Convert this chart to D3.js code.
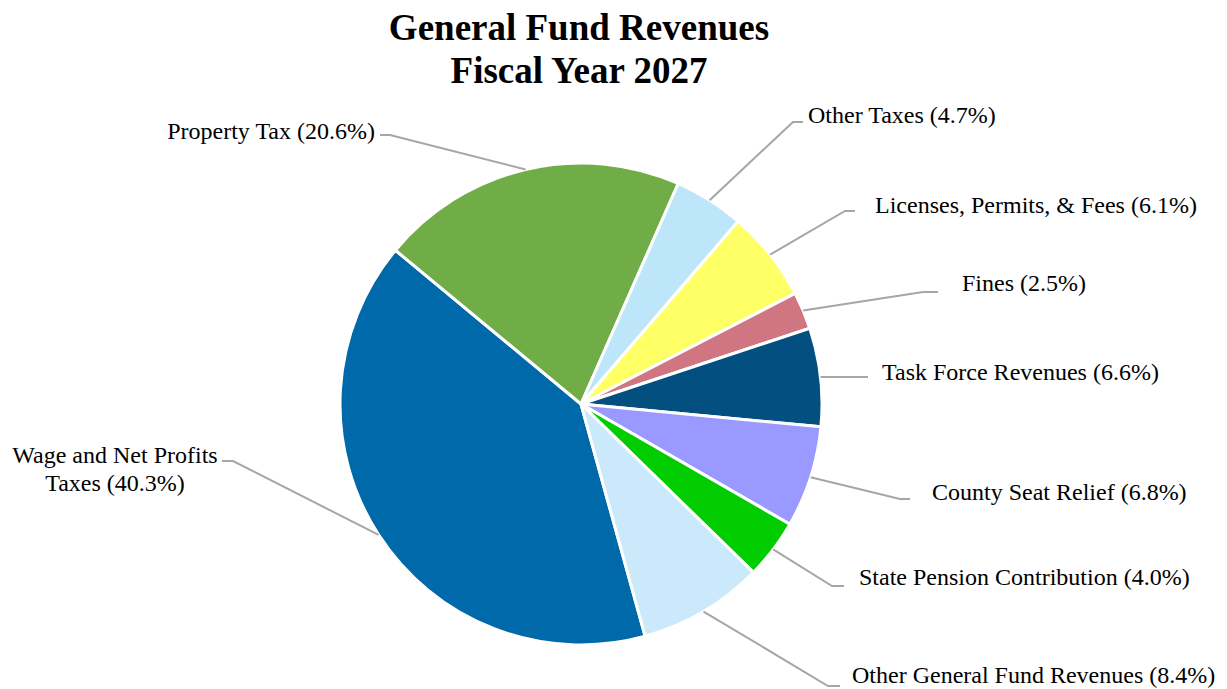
<!DOCTYPE html>
<html>
<head>
<meta charset="utf-8">
<script src="https://cdn.jsdelivr.net/npm/d3@7"></script>
<style>
    body { margin: 0; background: #fff; }
    svg { display: block; }
    text { font-family: "Liberation Serif", "Times New Roman", serif; fill: #000; }
    .title { font-size: 37px; font-weight: bold; }
    .label { font-size: 24px; }
</style>
</head>
<body>
<div id="chart"></div>
<script>
//
// chart data
//
const categories = ['Wage and Net Profits Taxes', 'Property Tax', 'Other Taxes',
    'Licenses, Permits, & Fees', 'Fines', 'Task Force Revenues',
    'County Seat Relief', 'State Pension Contribution', 'Other General Fund Revenues'];
const shares = [40.3, 20.6, 4.7, 6.1, 2.5, 6.6, 6.8, 4.0, 8.4];
const colors = ['#0069AA', '#70AD47', '#BDE6FB', '#FFFF66', '#D07682',
    '#034F7F', '#9999FF', '#00CC00', '#CAEAFB'];
const titleLines = ['General Fund Revenues', 'Fiscal Year 2027'];

// label layout: elbow point, end of short horizontal, text anchor spot
const labelLayout = [
    {ex: 233, ey: 461, hx: 222, tx: 115, ty: 455, anchor: 'middle', lines: ['Wage and Net Profits', 'Taxes (40.3%)']},
    {ex: 390, ey: 135, hx: 380, tx: 375, ty: 131, anchor: 'end'},
    {ex: 793, ey: 122, hx: 803, tx: 808, ty: 115, anchor: 'start'},
    {ex: 845, ey: 211, hx: 855, tx: 875, ty: 205, anchor: 'start'},
    {ex: 923, ey: 292, hx: 938, tx: 962, ty: 283, anchor: 'start'},
    {ex: null, ey: null, hx: 868, tx: 882, ty: 372, anchor: 'start'},
    {ex: 900, ey: 499, hx: 910, tx: 932, ty: 492, anchor: 'start'},
    {ex: 832, ey: 586, hx: 844, tx: 859, ty: 577, anchor: 'start'},
    {ex: 828, ey: 686, hx: 840, tx: 852, ty: 675, anchor: 'start'}
];

const width = 1227, height = 689;
const cx = 581, cy = 404, radius = 241;

const svg = d3.select('#chart').append('svg')
    .attr('width', width)
    .attr('height', height);

// title
svg.selectAll('text.title')
    .data(titleLines)
    .join('text')
    .classed('title', true)
    .attr('x', 579)
    .attr('y', (d, i) => 27 + i * 43)
    .attr('dy', '0.35em')
    .attr('text-anchor', 'middle')
    .text(d => d);

// pie
const start = 164.56 * Math.PI / 180;
const pie = d3.pie()
    .sort(null)
    .value(d => d)
    .startAngle(start)
    .endAngle(start + 2 * Math.PI);

const arcs = pie(shares);
const arc = d3.arc().innerRadius(0).outerRadius(radius);

const g = svg.append('g')
    .attr('transform', `translate(${cx}, ${cy})`);

g.selectAll('path')
    .data(arcs)
    .join('path')
    .attr('d', arc)
    .attr('fill', (d, i) => colors[i])
    .attr('stroke', '#fff')
    .attr('stroke-width', 3)
    .attr('stroke-linejoin', 'round');

// leader lines + labels
arcs.forEach((d, i) => {
    const lay = labelLayout[i];
    const mid = (d.startAngle + d.endAngle) / 2;
    const sx = cx + radius * Math.sin(mid);
    const sy = cy - radius * Math.cos(mid);
    let pts;
    if (lay.ex === null) {
        pts = [[sx, sy], [lay.hx, sy]];
    } else {
        pts = [[sx, sy], [lay.ex, lay.ey], [lay.hx, lay.ey]];
    }
    svg.append('path')
        .attr('d', d3.line()(pts))
        .attr('fill', 'none')
        .attr('stroke', '#A6A6A6')
        .attr('stroke-width', 2);

    const lines = lay.lines || [`${categories[i]} (${shares[i].toFixed(1)}%)`];
    const t = svg.append('text')
        .classed('label', true)
        .attr('text-anchor', lay.anchor);
    t.selectAll('tspan')
        .data(lines)
        .join('tspan')
        .attr('x', lay.tx)
        .attr('y', (l, j) => lay.ty + j * 28)
        .attr('dy', '0.35em')
        .text(l => l);
});
</script>
</body>
</html>
